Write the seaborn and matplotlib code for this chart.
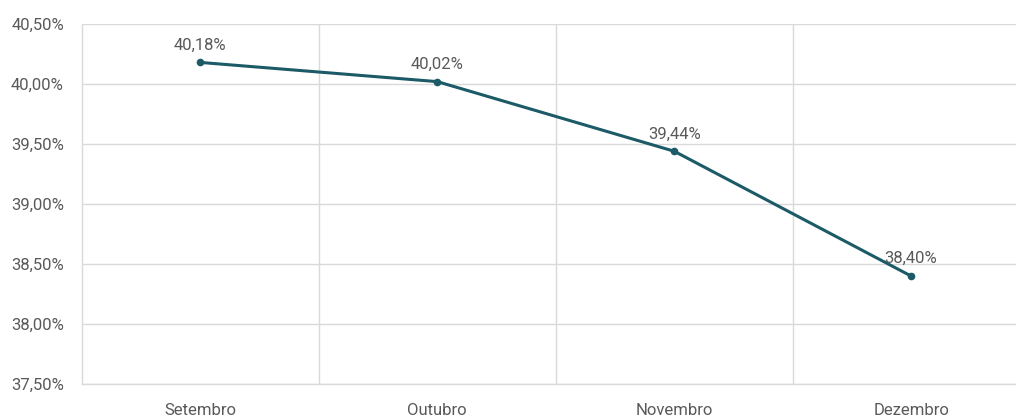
import seaborn as sns
import matplotlib.pyplot as plt
import pandas as pd
from matplotlib.ticker import FuncFormatter, MultipleLocator, FixedLocator

meses = ['Setembro', 'Outubro', 'Novembro', 'Dezembro']
valores = [40.18, 40.02, 39.44, 38.40]

df = pd.DataFrame({'mes': meses, 'valor': valores})

sns.set_style('white')
plt.rcParams['font.family'] = ['Roboto', 'DejaVu Sans']

cor = '#1b5a66'
cinza = '#595959'

fig = plt.figure(figsize=(10.16, 4.18), dpi=100)
ax = fig.add_axes([0.0807, 0.0813, 0.9326, 0.8612])

sns.lineplot(data=df, x='mes', y='valor', ax=ax, color=cor, linewidth=2.2,
             marker='o', markersize=5.5, markeredgewidth=0, sort=False)

# rótulos de dados acima dos pontos
for i, v in enumerate(valores):
    ax.annotate(f'{v:.2f}%'.replace('.', ','), (i, v), xytext=(0, 7),
                textcoords='offset points', ha='center', va='bottom',
                fontsize=12, color=cinza)

ax.set_xlim(-0.5, 3.5)
ax.set_ylim(37.5, 40.5)
ax.yaxis.set_major_locator(MultipleLocator(0.5))
ax.yaxis.set_major_formatter(FuncFormatter(lambda v, p: f'{v:.2f}%'.replace('.', ',')))
ax.xaxis.set_minor_locator(FixedLocator([0.5, 1.5, 2.5]))
ax.grid(axis='y', which='major', color='#d9d9d9', linewidth=1)
ax.grid(axis='x', which='minor', color='#d9d9d9', linewidth=1)
ax.set_axisbelow(True)

for s in ['top', 'right']:
    ax.spines[s].set_visible(False)
for s in ['left', 'bottom']:
    ax.spines[s].set_color('#d9d9d9')
    ax.spines[s].set_linewidth(1)

ax.tick_params(axis='both', which='both', length=0, labelsize=12, labelcolor=cinza)
ax.tick_params(axis='y', pad=13)
ax.tick_params(axis='x', pad=14)
ax.set_xlabel('')
ax.set_ylabel('')

fig.savefig('out.png', dpi=100)
